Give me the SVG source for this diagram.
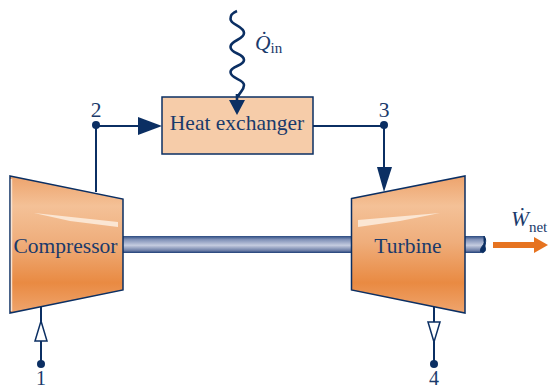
<svg xmlns="http://www.w3.org/2000/svg" width="548" height="389" viewBox="0 0 548 389">
<style>
.l{fill:none;stroke:#0b2f63;stroke-width:2}
.w{fill:none;stroke:#0b2f63;stroke-width:2.6}
.h{fill:#0b2f63}
.o{fill:#fff;stroke:#0b2f63;stroke-width:1.5}
.t{font-family:"Liberation Serif","Times New Roman",serif;fill:#1a3a6b;font-size:21.5px}
.d{font-size:20px}
.s{stroke:#0b2f63;stroke-width:1.5}
.sub{font-size:15px;font-style:normal}
</style>
<defs>
<linearGradient id="body" x1="0" y1="0" x2="0" y2="1">
<stop offset="0" stop-color="#eda36c"/><stop offset="0.22" stop-color="#f4c197"/><stop offset="0.48" stop-color="#efae7c"/><stop offset="0.78" stop-color="#e98a42"/><stop offset="1" stop-color="#efa56e"/>
</linearGradient>
<linearGradient id="shaft" x1="0" y1="0" x2="0" y2="1">
<stop offset="0" stop-color="#2a4a80"/><stop offset="0.2" stop-color="#7e8fb6"/><stop offset="0.55" stop-color="#c5cce0"/><stop offset="0.85" stop-color="#6f80a8"/><stop offset="1" stop-color="#1f3f78"/>
</linearGradient>
</defs>
<g id="shaft-bar">
<rect x="123" y="236" width="229" height="17" fill="url(#shaft)"/>
<path d="M465 236H484C486 240 482 243 482 247C481 250 482 252 481 253H465Z" fill="url(#shaft)"/>
<path d="M484 236C487 240 485 243 485 247C487 251 483 254 481 252C479 249 483 246 484 243Z" fill="#0b2f63" stroke="#0b2f63"/>
</g>
<g id="connectors">
<path class="l" d="M96 126V192M96 126H140"/>
<path class="l" d="M312 126H384V170"/>
<path class="w" d="M237 11C232 13 230.500 15 230.500 19C230.500 25 244 26 244 33C244 40 230.500 40 230.500 47C230.500 54 244 53 244 60C244 66 230.500 66 230.500 72C230.500 79 244 79 244 85C244 92 237 92 237 102"/>
<path class="l" d="M41 306V364"/>
<path class="l" d="M434 306V364"/>
<polygon class="h" points="138,117 162,126 138,135"/>
<polygon class="h" points="377,167 392,167 384,192"/>
<polygon class="o" points="41,321 47,341 35,341"/>
<polygon class="o" points="434,342 428,322 440,322"/>
<circle class="h" cx="96" cy="125" r="4"/>
<circle class="h" cx="384" cy="125" r="4"/>
<circle class="h" cx="41" cy="364" r="4"/>
<circle class="h" cx="434" cy="364" r="4"/>
</g>
<g id="heat-exchanger">
<rect x="162" y="97" width="151" height="57" fill="#f6cca9" stroke="#0b2f63" stroke-width="1.5"/>
<path class="w" d="M237 94V102"/>
<polygon class="h" points="229,100 245,100 237,115"/>
<text class="t" x="237" y="130" text-anchor="middle">Heat exchanger</text>
</g>
<g id="compressor">
<polygon points="10,176 123,199 123,290 10,313" fill="url(#body)" class="s"/>
<path d="M11.500 179V311" stroke="#f7e3d3" stroke-width="1.500"/>
<polygon points="34,213 118,222 118,227 70,221" fill="#fbe6d3"/>
<text class="t" x="65.500" y="253" text-anchor="middle">Compressor</text>
</g>
<g id="turbine">
<polygon points="351.500,198.500 465,176 465,313 351.500,290" fill="url(#body)" class="s"/>
<polygon points="358,220 440,213 400,221 358,227" fill="#fbe6d3"/>
<text class="t" x="408" y="253" text-anchor="middle">Turbine</text>
</g>
<g id="work-out">
<polygon points="493,242 534,242 534,237 548,245 534,253 534,248 493,248" fill="#e67320"/>
</g>
<g id="labels">
<text class="t" x="96" y="117" text-anchor="middle">2</text>
<text class="t" x="384" y="117" text-anchor="middle">3</text>
<text class="t d" x="41" y="384.500" text-anchor="middle">1</text>
<text class="t d" x="434" y="384.500" text-anchor="middle">4</text>
<text class="t" x="255" y="50" font-style="italic">Q̇<tspan class="sub" dy="3">in</tspan></text>
<text class="t" x="511" y="226" font-style="italic">Ẇ<tspan class="sub" dy="6">net</tspan></text>
</g>
</svg>
